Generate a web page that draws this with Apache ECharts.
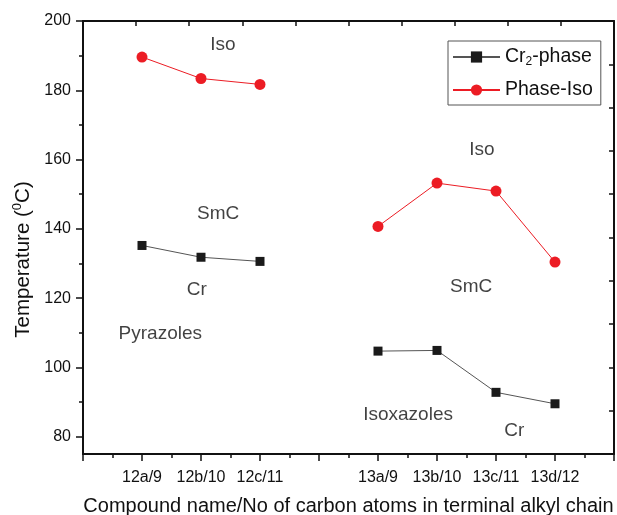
<!DOCTYPE html>
<html><head><meta charset="utf-8">
<script src="https://cdn.jsdelivr.net/npm/echarts@6/dist/echarts.min.js"></script>
<style>html,body{margin:0;padding:0;background:#fff}#c{width:617px;height:515px}</style>
</head><body><div id="c"></div>
<script>
// Category labels on the x value axis (positions 0..9)
var categories = ['', '12a/9', '12b/10', '12c/11', '', '13a/9', '13b/10', '13c/11', '13d/12', ''];
var yTicks = [80, 100, 120, 140, 160, 180, 200];
var yMinorTicks = [90, 110, 130, 150, 170, 190];
// Series: [x position, value], split by compound family (pyrazoles 12, isoxazoles 13)
var cr2Pyrazoles = [[1, 135.2], [2, 131.8], [3, 130.6]];
var cr2Isoxazoles = [[5, 104.7], [6, 104.9], [7, 92.8], [8, 89.5]];
var isoPyrazoles = [[1, 189.6], [2, 183.4], [3, 181.7]];
var isoIsoxazoles = [[5, 140.7], [6, 153.2], [7, 150.9], [8, 130.4]];
// Text annotations: [x, y, text]
var annotations = [
  [2.37, 193.1, 'Iso'], [2.29, 144.3, 'SmC'], [1.93, 122.4, 'Cr'], [1.31, 109.7, 'Pyrazoles'],
  [6.76, 162.8, 'Iso'], [6.58, 123.3, 'SmC'], [5.51, 86.4, 'Isoxazoles'], [7.31, 81.7, 'Cr']
];

var FONT = 'Liberation Sans, Arial, sans-serif';
var TXT = '#111';
var crStyle = {symbol: 'rect', symbolSize: 9, itemStyle: {color: '#1a1a1a'}, lineStyle: {color: '#555', width: 1}};
var isoStyle = {symbol: 'circle', symbolSize: 11, itemStyle: {color: '#ec1c24'}, lineStyle: {color: '#ec1c24', width: 1}};
function lineSeries(name, data, st) {
  return Object.assign({name: name, type: 'line', data: data}, st);
}
var chart = echarts.init(document.getElementById('c'), null, {renderer: 'canvas'});
chart.setOption({
  animation: false,
  backgroundColor: '#fff',
  textStyle: {fontFamily: FONT},
  grid: {left: 83, right: 3, top: 21, bottom: 61, containLabel: false, outerBoundsMode: 'none'},
  legend: {
    orient: 'vertical', left: 448, top: 41,
    data: ['Cr2-phase', 'Phase-Iso'],
    itemWidth: 47, itemHeight: 14, itemGap: 12,
    backgroundColor: '#fff', borderColor: '#555', borderWidth: 1, borderRadius: 0,
    padding: [6, 8, 5, 4],
    formatter: function (n) { return n === 'Cr2-phase' ? '{a|Cr}{s|2}{a|-phase}' : '{a|' + n + '}'; },
    textStyle: {
      color: TXT, fontSize: 19.5, fontFamily: FONT,
      rich: {a: {fontSize: 19.5, fontFamily: FONT, color: TXT},
             s: {fontSize: 12, fontFamily: FONT, color: TXT, padding: [10, 0, 0, 0]}}
    }
  },
  xAxis: [{
    type: 'value', min: 0, max: 9, interval: 1, position: 'bottom',
    name: 'Compound name/No of carbon atoms in terminal alkyl chain',
    nameLocation: 'middle', nameGap: 42,
    nameTextStyle: {fontSize: 20, color: TXT, fontFamily: FONT},
    axisLine: {lineStyle: {color: '#111', width: 2}},
    axisTick: {show: true, inside: false, length: 7, lineStyle: {color: '#111', width: 1.5}},
    minorTick: {show: true, splitNumber: 2, length: 4, lineStyle: {color: '#111', width: 1.5}},
    splitLine: {show: false},
    axisLabel: {fontSize: 16, color: TXT, margin: 16, fontFamily: FONT,
      formatter: function (v) { return categories[Math.round(v)] || ''; }}
  }, {
    type: 'value', min: 0, max: 10, interval: 1, position: 'top',
    axisLine: {show: true, lineStyle: {color: '#111', width: 2}},
    axisTick: {show: true, inside: true, length: 5, lineStyle: {color: '#111', width: 1.5}},
    axisLabel: {show: false}, splitLine: {show: false}
  }],
  yAxis: [{
    type: 'value', min: 75, max: 200, position: 'left',
    name: '{a|Temperature (}{s|0}{a|C)}',
    nameLocation: 'middle', nameGap: 41, nameRotate: 90,
    nameTextStyle: {fontSize: 20.5, color: TXT, fontFamily: FONT, padding: [0, 44, 0, 0],
      rich: {a: {fontSize: 20.5, fontFamily: FONT, color: TXT},
             s: {fontSize: 13, fontFamily: FONT, color: TXT, padding: [0, 0, 10, 0]}}},
    axisLine: {show: true, lineStyle: {color: '#111', width: 2}},
    axisTick: {show: true, inside: false, length: 7, customValues: yTicks, lineStyle: {color: '#111', width: 1.5}},
    axisLabel: {fontSize: 16, color: TXT, margin: 12, fontFamily: FONT, customValues: yTicks},
    splitLine: {show: false}
  }, {
    type: 'value', min: 75, max: 200, position: 'left',
    axisLine: {show: false},
    axisTick: {show: true, inside: false, length: 4, customValues: yMinorTicks, lineStyle: {color: '#111', width: 1.5}},
    axisLabel: {show: false}, splitLine: {show: false}
  }, {
    type: 'value', min: 0, max: 10, interval: 1, position: 'right',
    axisLine: {show: true, lineStyle: {color: '#111', width: 2}},
    axisTick: {show: true, inside: true, length: 5, lineStyle: {color: '#111', width: 1.5}},
    axisLabel: {show: false}, splitLine: {show: false}
  }],
  series: [
    lineSeries('Cr2-phase', cr2Pyrazoles, crStyle),
    lineSeries('Cr2-phase', cr2Isoxazoles, crStyle),
    lineSeries('Phase-Iso', isoPyrazoles, isoStyle),
    lineSeries('Phase-Iso', isoIsoxazoles, isoStyle),
    {
      name: 'annotations', type: 'scatter', silent: true,
      data: annotations.map(function (a) { return {value: [a[0], a[1]], name: a[2]}; }),
      symbolSize: 0,
      label: {show: true, position: 'inside', formatter: '{b}', fontSize: 19, color: TXT, fontFamily: FONT}
    }
  ]
});
</script></body></html>
